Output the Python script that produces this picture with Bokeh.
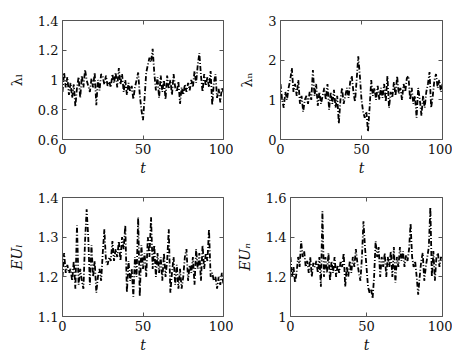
from bokeh.plotting import figure
from bokeh.layouts import column, row
from bokeh.models import Range1d, FixedTicker, LinearAxis
from bokeh.embed import file_html
from bokeh.resources import INLINE

t = list(range(0, 101))

lambda_l = [0.92, 1.05, 0.95, 1.02, 0.90, 0.98, 0.88, 0.97, 0.82, 0.95,
            1.02, 0.88, 1.03, 0.95, 1.07, 1.00, 0.96, 0.92, 1.01, 0.95,
            1.05, 0.83, 1.00, 0.93, 1.04, 1.02, 0.97, 1.03, 0.96, 0.99,
            0.95, 1.04, 0.98, 1.05, 0.95, 1.08, 0.97, 1.04, 0.92, 1.00,
            0.90, 0.98, 0.92, 0.96, 0.87, 0.95, 1.00, 1.05, 0.90, 0.80,
            0.73, 0.88, 1.05, 1.10, 1.15, 1.12, 1.21, 1.05, 0.93, 1.02,
            0.88, 1.03, 0.92, 1.00, 0.87, 1.03, 0.94, 1.00, 0.90, 1.04,
            0.95, 0.92, 0.99, 0.84, 0.95, 0.90, 0.97, 0.92, 0.98, 0.93,
            1.00, 0.95, 1.06, 0.98, 1.10, 1.18, 1.03, 0.92, 1.04, 0.96,
            1.02, 0.95, 1.06, 0.83, 0.98, 1.04, 0.88, 0.94, 0.85, 0.95,
            0.92]

lambda_n = [1.4, 1.0, 0.8, 1.2, 1.0, 1.3, 1.5, 1.8, 1.2, 1.4,
            1.1, 1.5, 0.9, 1.1, 0.7, 1.0, 1.1, 0.9, 1.2, 1.0,
            1.75, 1.1, 1.4, 0.85, 1.2, 0.9, 1.1, 1.3, 1.0, 1.4,
            0.75, 1.2, 0.9, 1.25, 0.8, 1.1, 0.4, 1.0, 1.3, 0.9,
            1.1, 1.3, 1.05, 1.45, 1.6, 1.2, 0.95, 1.5, 2.1, 1.6,
            1.0, 0.7, 0.55, 0.7, 0.2, 0.8, 1.5, 1.1, 1.3, 1.0,
            1.35, 1.0, 1.3, 1.05, 1.4, 0.95, 1.6, 0.8, 1.2, 1.05,
            1.45, 1.1, 1.6, 1.15, 1.3, 1.0, 1.4, 1.2, 1.55, 1.6,
            1.0, 1.3, 0.9, 1.1, 0.55, 1.3, 1.0, 0.6, 1.1, 0.8,
            1.2, 1.4, 1.7, 0.8, 1.1, 1.5, 1.65, 1.3, 1.5, 1.2,
            1.4]

eu_l = [1.20, 1.26, 1.21, 1.23, 1.21, 1.22, 1.19, 1.24, 1.17, 1.33,
        1.18, 1.22, 1.19, 1.17, 1.29, 1.37, 1.30, 1.18, 1.28, 1.20,
        1.24, 1.16, 1.20, 1.22, 1.19, 1.26, 1.32, 1.24, 1.23, 1.25,
        1.24, 1.29, 1.24, 1.27, 1.25, 1.29, 1.24, 1.30, 1.27, 1.33,
        1.16, 1.24, 1.19, 1.22, 1.15, 1.25, 1.20, 1.35, 1.15, 1.28,
        1.22, 1.26, 1.20, 1.30, 1.25, 1.35, 1.22, 1.28, 1.20, 1.26,
        1.21, 1.25, 1.19, 1.26, 1.20, 1.24, 1.32, 1.16, 1.21, 1.25,
        1.18, 1.23, 1.17, 1.22, 1.17, 1.20, 1.25, 1.27, 1.19, 1.23,
        1.21, 1.25, 1.18, 1.27, 1.22, 1.26, 1.19, 1.28, 1.22, 1.26,
        1.24, 1.32, 1.20, 1.21, 1.19, 1.20, 1.17, 1.20, 1.18, 1.21,
        1.18]

eu_n = [1.30, 1.20, 1.25, 1.17, 1.22, 1.30, 1.25, 1.38, 1.30, 1.33,
        1.25, 1.28, 1.22, 1.30, 1.20, 1.27, 1.25, 1.28, 1.22, 1.30,
        1.15, 1.53, 1.20, 1.30, 1.22, 1.32, 1.18, 1.28, 1.22, 1.30,
        1.20, 1.26, 1.22, 1.28, 1.25, 1.32, 1.15, 1.25, 1.20, 1.28,
        1.22, 1.30, 1.25, 1.34, 1.27, 1.22, 1.18, 1.30, 1.48, 1.35,
        1.25, 1.15, 1.12, 1.14, 1.09, 1.20, 1.38, 1.30, 1.35, 1.20,
        1.30, 1.25, 1.32, 1.20, 1.30, 1.25, 1.33, 1.20, 1.35, 1.17,
        1.30, 1.25, 1.35, 1.28, 1.33, 1.25, 1.31, 1.28, 1.34, 1.47,
        1.30, 1.25, 1.28, 1.20, 1.11, 1.20, 1.28, 1.32, 1.18, 1.25,
        1.30, 1.35, 1.55, 1.20, 1.33, 1.18, 1.30, 1.32, 1.25, 1.30,
        1.28]

x_ticks = [0, 50, 100]
y_ticks_1 = [0.6, 0.8, 1.0, 1.2, 1.4]
y_labels_1 = {0.6: "0.6", 0.8: "0.8", 1.0: "1", 1.2: "1.2", 1.4: "1.4"}
y_ticks_2 = [0, 1, 2, 3]
y_labels_2 = {0: "0", 1: "1", 2: "2", 3: "3"}
y_ticks_3 = [1.1, 1.2, 1.3, 1.4]
y_labels_3 = {1.1: "1.1", 1.2: "1.2", 1.3: "1.3", 1.4: "1.4"}
y_ticks_4 = [1.0, 1.2, 1.4, 1.6]
y_labels_4 = {1.0: "1", 1.2: "1.2", 1.4: "1.4", 1.6: "1.6"}

FONT = "DejaVu Serif"


def style_axis(ax, ticks, overrides=None, show_labels=True):
    ax.ticker = FixedTicker(ticks=ticks)
    ax.minor_tick_line_color = None
    ax.major_tick_in = 4
    ax.major_tick_out = 0
    ax.major_tick_line_color = "#555555"
    ax.axis_line_color = "#555555"
    ax.axis_line_width = 1
    if overrides:
        ax.major_label_overrides = overrides
    ax.major_label_text_font = FONT
    ax.major_label_text_color = "#111111"
    ax.major_label_text_font_size = "13px"
    if show_labels:
        ax.major_label_standoff = 4
    else:
        ax.major_label_text_color = None
        ax.major_label_standoff = 0


def panel(y, yr, yticks, ylabels, ylabel, width, height, bl, br, bt, bb):
    p = figure(width=width, height=height, output_backend="svg",
               toolbar_location=None, x_range=Range1d(0, 100),
               y_range=Range1d(*yr), min_border_left=bl,
               min_border_right=br, min_border_top=bt, min_border_bottom=bb)
    p.line(t, y, line_color="black", line_width=1.8, line_dash="5 2 1 2")
    p.grid.visible = False
    p.outline_line_color = None
    style_axis(p.xaxis[0], x_ticks)
    style_axis(p.yaxis[0], yticks, ylabels)
    for ax in (p.xaxis[0], p.yaxis[0]):
        ax.axis_label_text_font = FONT
        ax.axis_label_text_font_size = "14px"
        ax.axis_label_text_color = "#111111"
    p.xaxis[0].axis_label = "t"
    p.xaxis[0].axis_label_text_font_style = "italic"
    p.xaxis[0].axis_label_standoff = 3
    p.yaxis[0].axis_label = ylabel
    p.yaxis[0].axis_label_text_font_style = "italic" if ylabel.startswith("EU") else "normal"
    p.yaxis[0].axis_label_standoff = 10
    top = LinearAxis()
    style_axis(top, x_ticks, show_labels=False)
    p.add_layout(top, "above")
    right = LinearAxis()
    style_axis(right, yticks, show_labels=False)
    p.add_layout(right, "right")
    return p


p1 = panel(lambda_l, (0.6, 1.4), y_ticks_1, y_labels_1, "λₗ", 233, 180, 62, 10, 20, 39)
p2 = panel(lambda_n, (0, 3), y_ticks_2, y_labels_2, "λₙ", 219, 180, 47, 10, 18, 41)
p3 = panel(eu_l, (1.1, 1.4), y_ticks_3, y_labels_3, "EUₗ", 233, 175, 62, 10, 17, 39)
p4 = panel(eu_n, (1.0, 1.6), y_ticks_4, y_labels_4, "EUₙ", 219, 175, 47, 10, 17, 39)

layout = column(row(p1, p2), row(p3, p4))

with open("out.html", "w") as f:
    f.write(file_html(layout, INLINE))
